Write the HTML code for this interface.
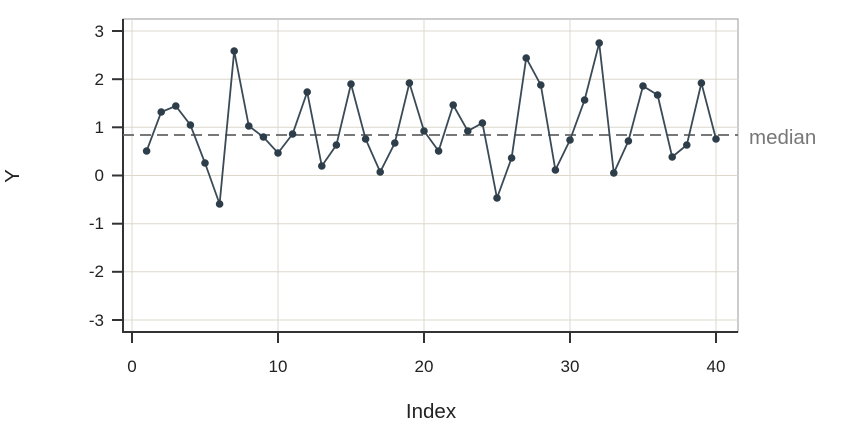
<!DOCTYPE html>
<html><head><meta charset="utf-8"><style>body{margin:0;background:#fff}svg{display:block}</style></head><body>
<svg width="864" height="432" viewBox="0 0 864 432" xmlns="http://www.w3.org/2000/svg" font-family="Liberation Sans, sans-serif">
<rect x="123" y="19" width="615" height="313" fill="none" stroke="#999" stroke-width="1"/>
<g stroke="#dcd8cc" stroke-width="1">
<line x1="132" y1="19" x2="132" y2="332"/><line x1="278" y1="19" x2="278" y2="332"/><line x1="424" y1="19" x2="424" y2="332"/><line x1="570" y1="19" x2="570" y2="332"/><line x1="716" y1="19" x2="716" y2="332"/>
<line x1="123" y1="31" x2="738" y2="31"/><line x1="123" y1="79.2" x2="738" y2="79.2"/><line x1="123" y1="127.3" x2="738" y2="127.3"/><line x1="123" y1="175.5" x2="738" y2="175.5"/><line x1="123" y1="223.7" x2="738" y2="223.7"/><line x1="123" y1="271.8" x2="738" y2="271.8"/><line x1="123" y1="320" x2="738" y2="320"/>
</g>
<g stroke="#333" stroke-width="2">
<line x1="123" y1="19" x2="123" y2="332"/><line x1="122" y1="332" x2="738" y2="332"/>
<line x1="112" y1="31" x2="123" y2="31"/><line x1="112" y1="79.2" x2="123" y2="79.2"/><line x1="112" y1="127.3" x2="123" y2="127.3"/><line x1="112" y1="175.5" x2="123" y2="175.5"/><line x1="112" y1="223.7" x2="123" y2="223.7"/><line x1="112" y1="271.8" x2="123" y2="271.8"/><line x1="112" y1="320" x2="123" y2="320"/>
<line x1="132" y1="332" x2="132" y2="343"/><line x1="278" y1="332" x2="278" y2="343"/><line x1="424" y1="332" x2="424" y2="343"/><line x1="570" y1="332" x2="570" y2="343"/><line x1="716" y1="332" x2="716" y2="343"/>
</g>
<g font-size="17" fill="#222" text-anchor="end">
<text x="104" y="37">3</text><text x="104" y="85">2</text><text x="104" y="133">1</text><text x="104" y="181">0</text><text x="104" y="229">-1</text><text x="104" y="277">-2</text><text x="104" y="326">-3</text>
</g>
<g font-size="17" fill="#222" text-anchor="middle">
<text x="132" y="372">0</text><text x="278" y="372">10</text><text x="424" y="372">20</text><text x="570" y="372">30</text><text x="716" y="372">40</text>
<text x="431" y="418" font-size="20.5">Index</text>
<text x="0" y="0" font-size="20.5" transform="translate(19,176) rotate(-90)">Y</text>
</g>
<line x1="123" y1="135" x2="738" y2="135" stroke="#666" stroke-width="1.8" stroke-dasharray="11,6"/>
<text x="749" y="144" font-size="20.5" fill="#777">median</text>
<polyline fill="none" stroke="#3a4a56" stroke-width="1.8" points="146.6,151 161.2,112 175.8,106 190.4,125 205,163 219.6,204 234.2,51 248.8,126 263.4,137 278,153 292.6,134 307.2,92 321.8,166 336.4,145 351,84 365.6,139 380.2,172 394.8,143 409.4,83 424,131 438.6,151 453.2,105 467.8,131 482.4,123 497,198 511.6,158 526.2,58 540.8,85 555.4,170 570,140 584.6,100 599.2,43 613.8,173 628.4,141 643,86 657.6,95 672.2,157 686.8,145 701.4,83 716,139"/>
<g fill="#2d3e4a">
<circle cx="146.6" cy="151" r="3.8"/><circle cx="161.2" cy="112" r="3.8"/><circle cx="175.8" cy="106" r="3.8"/><circle cx="190.4" cy="125" r="3.8"/><circle cx="205" cy="163" r="3.8"/><circle cx="219.6" cy="204" r="3.8"/><circle cx="234.2" cy="51" r="3.8"/><circle cx="248.8" cy="126" r="3.8"/><circle cx="263.4" cy="137" r="3.8"/><circle cx="278" cy="153" r="3.8"/><circle cx="292.6" cy="134" r="3.8"/><circle cx="307.2" cy="92" r="3.8"/><circle cx="321.8" cy="166" r="3.8"/><circle cx="336.4" cy="145" r="3.8"/><circle cx="351" cy="84" r="3.8"/><circle cx="365.6" cy="139" r="3.8"/><circle cx="380.2" cy="172" r="3.8"/><circle cx="394.8" cy="143" r="3.8"/><circle cx="409.4" cy="83" r="3.8"/><circle cx="424" cy="131" r="3.8"/><circle cx="438.6" cy="151" r="3.8"/><circle cx="453.2" cy="105" r="3.8"/><circle cx="467.8" cy="131" r="3.8"/><circle cx="482.4" cy="123" r="3.8"/><circle cx="497" cy="198" r="3.8"/><circle cx="511.6" cy="158" r="3.8"/><circle cx="526.2" cy="58" r="3.8"/><circle cx="540.8" cy="85" r="3.8"/><circle cx="555.4" cy="170" r="3.8"/><circle cx="570" cy="140" r="3.8"/><circle cx="584.6" cy="100" r="3.8"/><circle cx="599.2" cy="43" r="3.8"/><circle cx="613.8" cy="173" r="3.8"/><circle cx="628.4" cy="141" r="3.8"/><circle cx="643" cy="86" r="3.8"/><circle cx="657.6" cy="95" r="3.8"/><circle cx="672.2" cy="157" r="3.8"/><circle cx="686.8" cy="145" r="3.8"/><circle cx="701.4" cy="83" r="3.8"/><circle cx="716" cy="139" r="3.8"/>
</g>
</svg>
</body></html>
